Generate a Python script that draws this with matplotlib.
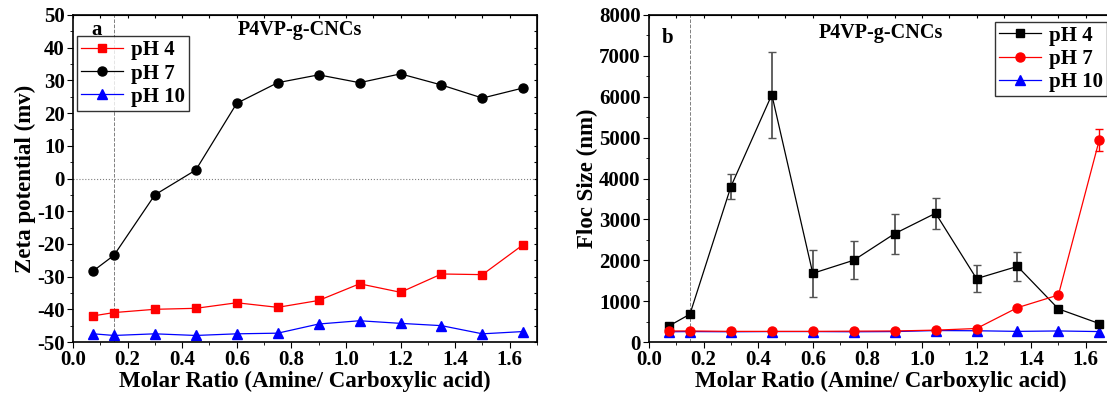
import numpy as np
import matplotlib.pyplot as plt
from matplotlib.ticker import MultipleLocator

plt.rcParams['font.family'] = ['Liberation Serif', 'DejaVu Serif']
plt.rcParams['font.weight'] = 'bold'
plt.rcParams['axes.labelweight'] = 'bold'
plt.rcParams['axes.unicode_minus'] = False

ratio = [0.075, 0.15, 0.3, 0.45, 0.6, 0.75, 0.9, 1.05, 1.2, 1.35, 1.5, 1.65]

# (a) zeta potential, mV
zeta_ph4 = [-42, -41, -40, -39.7, -38, -39.4, -37.3, -32.2, -34.8, -29.2, -29.4, -20.2]
zeta_ph7 = [-28.2, -23.5, -5, 2.6, 23, 29.3, 31.7, 29.3, 32, 28.6, 24.6, 27.7]
zeta_ph10 = [-47.5, -48, -47.5, -48, -47.5, -47.3, -44.5, -43.5, -44.3, -45, -47.5, -46.8]

# (b) floc size, nm
floc_ph4 = [400, 680, 3800, 6050, 1680, 2000, 2650, 3150, 1550, 1850, 810, 450]
floc_ph4_err = [0, 0, 300, 1050, 575, 465, 485, 375, 325, 360, 0, 0]
floc_ph7 = [270, 270, 260, 260, 260, 265, 270, 290, 330, 840, 1150, 4950]
floc_ph7_err = [0, 0, 0, 0, 0, 0, 0, 0, 0, 0, 0, 270]
floc_ph10 = [250, 255, 250, 255, 255, 250, 255, 280, 275, 260, 270, 255]

W, H = 1107, 396
fig = plt.figure(figsize=(W / 100, H / 100), dpi=100)
ax1 = fig.add_axes([73 / W, (H - 342) / H, 464 / W, 327 / H])
ax2 = fig.add_axes([649 / W, (H - 342) / H, 464 / W, 327 / H])

FS_TICK = 15
FS_LAB = 16.5
FS_LEG = 15


def style(ax):
    ax.set_xlim(0, 1.7)
    ax.xaxis.set_major_locator(MultipleLocator(0.2))
    ax.xaxis.set_minor_locator(MultipleLocator(0.1))
    ax.tick_params(which='both', direction='out', top=False, right=False,
                   labelsize=FS_TICK, pad=2)
    ax.tick_params(which='major', length=4)
    ax.tick_params(which='minor', length=2.5)
    for sp in ax.spines.values():
        sp.set_linewidth(1.2)
    # small inward ticks on top / right
    sec_x = ax.secondary_xaxis('top')
    sec_x.xaxis.set_major_locator(MultipleLocator(0.1))
    sec_x.tick_params(direction='in', length=2.5, labeltop=False)
    sec_y = ax.secondary_yaxis('right')
    sec_y.tick_params(direction='in', length=2.5, labelright=False)
    for lab in ax.get_xticklabels() + ax.get_yticklabels():
        lab.set_fontweight('bold')
    ax.set_xlabel('Molar Ratio (Amine/ Carboxylic acid)', fontsize=FS_LAB, labelpad=0)
    ax.axvline(0.15, color='grey', ls='--', lw=0.7, zorder=0)
    return sec_y


def legend(ax, handles, anchor):
    leg = ax.legend(handles, ['pH 4', 'pH 7', 'pH 10'], loc='upper left',
                    bbox_to_anchor=anchor, fontsize=FS_LEG, frameon=True,
                    fancybox=False, edgecolor='black', handlelength=2.0,
                    borderpad=0.2, labelspacing=0.15, handletextpad=0.4,
                    borderaxespad=0)
    leg.get_frame().set_linewidth(1.0)


# panel a
sy = style(ax1)
ax1.set_ylim(-50, 50)
ax1.yaxis.set_major_locator(MultipleLocator(10))
ax1.yaxis.set_minor_locator(MultipleLocator(5))
sy.yaxis.set_major_locator(MultipleLocator(5))
ax1.axhline(0, color='grey', ls=':', lw=0.8, zorder=0)
a4, = ax1.plot(ratio, zeta_ph4, '-s', color='red', lw=0.9, ms=6)
a7, = ax1.plot(ratio, zeta_ph7, '-o', color='black', lw=0.9, ms=6.5)
a10, = ax1.plot(ratio, zeta_ph10, '-^', color='blue', lw=0.9, ms=7)
ax1.set_ylabel('Zeta potential (mv)', fontsize=FS_LAB, labelpad=1)
ax1.text(0.05, 0.955, 'a', transform=ax1.transAxes, fontsize=15, fontweight='bold',
         ha='center', va='center')
ax1.text(0.83 / 1.7, 0.955, 'P4VP-g-CNCs', transform=ax1.transAxes,
         fontsize=14.5, fontweight='bold', ha='center', va='center')
legend(ax1, [a4, a7, a10], (0.008, 0.935))

# panel b
sy = style(ax2)
ax2.set_ylim(0, 8000)
ax2.yaxis.set_major_locator(MultipleLocator(1000))
ax2.yaxis.set_minor_locator(MultipleLocator(500))
sy.yaxis.set_major_locator(MultipleLocator(500))
b4 = ax2.errorbar(ratio, floc_ph4, yerr=floc_ph4_err, fmt='-s', color='black',
                  ecolor='#555555', elinewidth=1.3, capsize=3, lw=0.9, ms=6)
b7 = ax2.errorbar(ratio, floc_ph7, yerr=floc_ph7_err, fmt='-o', color='red',
                  ecolor='red', elinewidth=1.0, capsize=3, lw=0.9, ms=6.5)
b10, = ax2.plot(ratio, floc_ph10, '-^', color='blue', lw=0.9, ms=7)
ax2.set_ylabel('Floc Size (nm)', fontsize=FS_LAB, labelpad=1)
ax2.text(0.04, 0.93, 'b', transform=ax2.transAxes, fontsize=15, fontweight='bold',
         ha='center', va='center')
ax2.text(0.85 / 1.7, 0.945, 'P4VP-g-CNCs', transform=ax2.transAxes,
         fontsize=14.5, fontweight='bold', ha='center', va='center')
legend(ax2, [b4[0], b7[0], b10], (0.745, 0.98))

fig.savefig('out.png', dpi=100)
